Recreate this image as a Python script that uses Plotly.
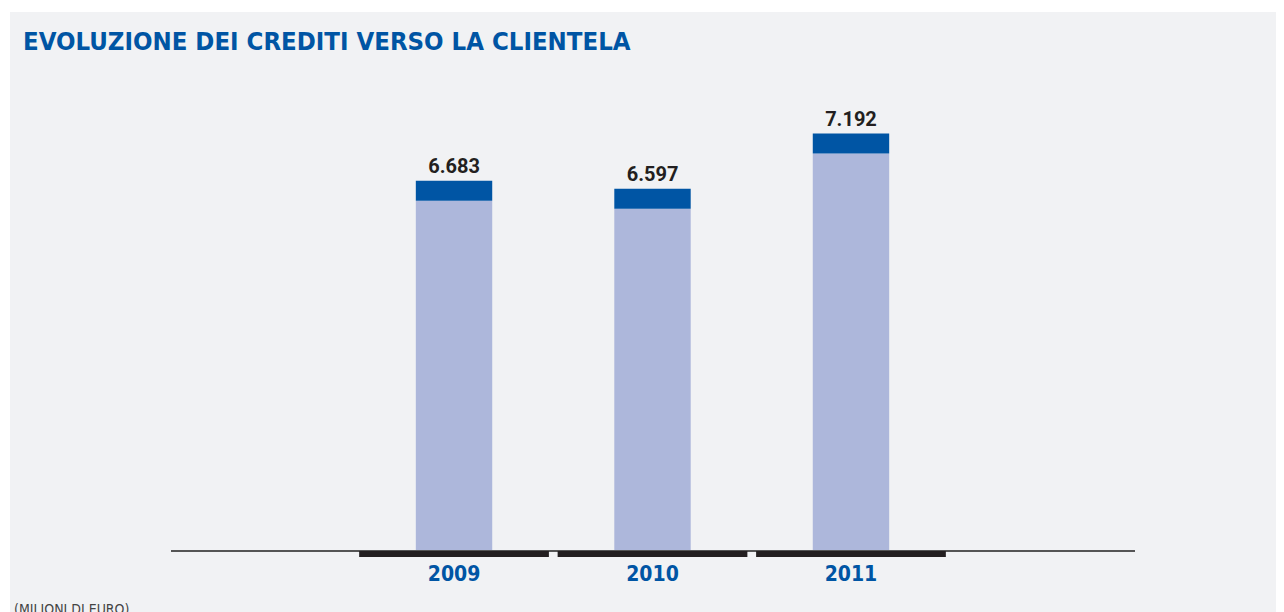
import plotly.graph_objects as go

years = ["2009", "2010", "2011"]
crediti = [6683, 6597, 7192]
labels = ["6.683", "6.597", "7.192"]

BLU = "#0055a4"
LILLA = "#adb7db"
CAP = 216  # altezza della fascia scura in unita' dati
FONT = "DejaVu Sans Condensed, Roboto"

base = [v - CAP for v in crediti]

fig = go.Figure()
# corpo della barra
fig.add_trace(go.Bar(x=years, y=base, width=0.385,
                     marker=dict(color=LILLA, line=dict(width=0)),
                     hoverinfo="skip", showlegend=False))
# fascia scura in cima
fig.add_trace(go.Bar(x=years, y=[CAP] * 3, base=base, width=0.385,
                     marker=dict(color=BLU, line=dict(width=0)),
                     text=labels, textposition="outside", cliponaxis=False,
                     textfont=dict(family="Roboto", size=20, color="#231f20", weight="bold"),
                     hoverinfo="skip", showlegend=False))

# pannello grigio di sfondo
fig.add_shape(type="rect", xref="paper", yref="paper",
              x0=-0.167, x1=1.17, y0=-0.16, y1=1.1956,
              fillcolor="#f1f2f4", line=dict(width=0), layer="below")
# segmenti neri sotto la linea di base
for i in range(len(years)):
    fig.add_shape(type="rect", xref="x", yref="paper",
                  x0=i - 0.478, x1=i + 0.478, y0=-0.0156, y1=-0.002,
                  fillcolor="#231f20", line=dict(width=0))

fig.add_annotation(text="EVOLUZIONE DEI CREDITI VERSO LA CLIENTELA",
                   xref="paper", yref="paper", x=-0.156, y=1.131,
                   xanchor="left", yanchor="middle", showarrow=False,
                   font=dict(family=FONT, size=25.5, color=BLU, weight="bold"))
fig.add_annotation(text="(MILIONI DI EURO)",
                   xref="paper", yref="paper", x=-0.165, y=-0.109,
                   xanchor="left", yanchor="top", showarrow=False,
                   font=dict(family=FONT, size=14, color="#444"))

fig.update_layout(
    width=1284, height=612,
    margin=dict(l=163, r=157, t=92, b=70),
    paper_bgcolor="white", plot_bgcolor="rgba(0,0,0,0)",
    barmode="overlay",
    xaxis=dict(range=[-1.426, 3.431], showgrid=False, zeroline=False,
               showline=True, linecolor="#555", linewidth=2,
               ticks="", ticklabelstandoff=4,
               tickfont=dict(family=FONT, size=21, color=BLU, weight="bold")),
    yaxis=dict(range=[2700, 7554], visible=False),
)

fig.write_html("out.html")
